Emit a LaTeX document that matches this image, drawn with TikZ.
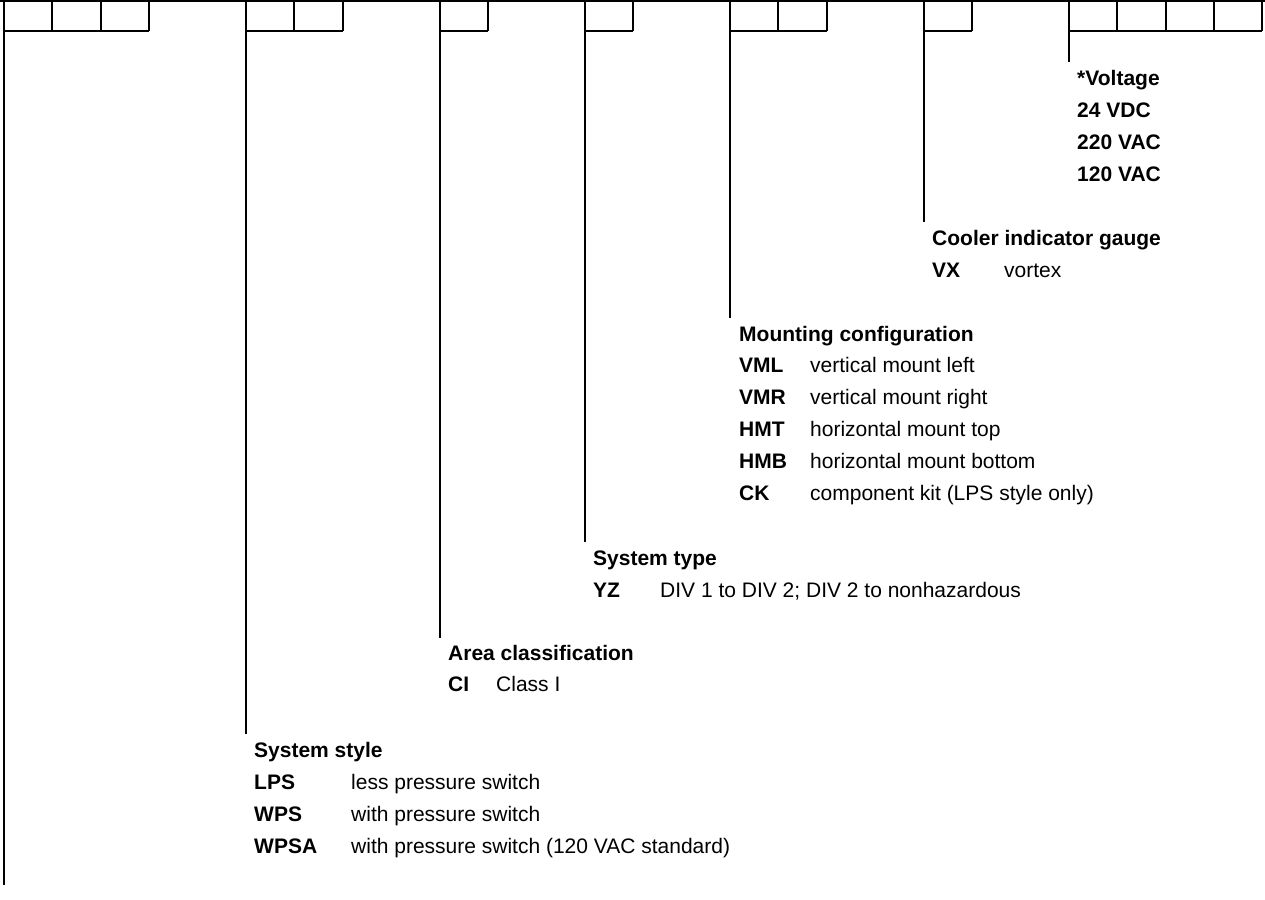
\documentclass[tikz,border=0pt]{standalone}
\usepackage{fontspec}
\setmainfont{Liberation Sans}
\begin{document}
\begin{tikzpicture}[x=1pt,y=-1pt,
  rule/.style={line width=2pt},
  head/.style={anchor=base west, inner sep=0pt, font=\fontsize{21}{25}\selectfont\bfseries},
  keytxt/.style={anchor=base west, inner sep=0pt, font=\fontsize{21}{25}\selectfont\bfseries},
  desc/.style={anchor=base west, inner sep=0pt, font=\fontsize{21}{25}\selectfont}]
\useasboundingbox (0,0) rectangle (1265,899);

% top rule
\coordinate (topL) at (0,1);
\coordinate (topR) at (1265,1);
\draw[rule] (topL) -- (topR);

% box groups: cell boundaries
\foreach \xs in {{4,52.4,100.8,149.2},{246,294.4,342.8},{439.6,488},{584.8,633.2},{730,778.4,826.8},{923.6,972},{1068.8,1117.2,1165.6,1214,1262.4}}{
  \foreach \x in \xs {
    \draw[rule] (\x,1) -- (\x,31);
  }
}
\draw[rule] (4,31) -- (149.2,31);
\draw[rule] (246,31) -- (342.8,31);
\draw[rule] (439.6,31) -- (488,31);
\draw[rule] (584.8,31) -- (633.2,31);
\draw[rule] (730,31) -- (826.8,31);
\draw[rule] (923.6,31) -- (972,31);
\draw[rule] (1068.8,31) -- (1262.4,31);

% leader coordinates
\coordinate (g1top) at (4,1);      \coordinate (g1end) at (4,885);
\coordinate (g2top) at (246,1);    \coordinate (g2end) at (246,734);
\coordinate (g3top) at (439.6,1);  \coordinate (g3end) at (439.6,638);
\coordinate (g4top) at (584.8,1);  \coordinate (g4end) at (584.8,542);
\coordinate (g5top) at (730,1);    \coordinate (g5end) at (730,318);
\coordinate (g6top) at (923.6,1);  \coordinate (g6end) at (923.6,222);
\coordinate (g7top) at (1068.8,1); \coordinate (g7end) at (1068.8,62);

\foreach \g in {1,...,7} { \draw[rule] (g\g top) -- (g\g end); }

% Voltage
\node[head] (volt) at (1077,85) {*Voltage};
\node[keytxt] (v24) at (1077,117) {24 VDC};
\node[keytxt] (v220) at (1077,149) {220 VAC};
\node[keytxt] (v120) at (1077,181) {120 VAC};

% Cooler indicator gauge
\node[head] (cool) at (932,245) {Cooler indicator gauge};
\node[keytxt] (vx) at (932,277) {VX};
\node[desc] (vxd) at (1004,277) {vortex};

% Mounting configuration
\node[head] (mount) at (739,341) {Mounting configuration};
\node[keytxt] (vml) at (739,372.8) {VML};
\node[desc] (vmld) at (810,372.8) {vertical mount left};
\node[keytxt] (vmr) at (739,404.6) {VMR};
\node[desc] (vmrd) at (810,404.6) {vertical mount right};
\node[keytxt] (hmt) at (739,436.4) {HMT};
\node[desc] (hmtd) at (810,436.4) {horizontal mount top};
\node[keytxt] (hmb) at (739,468.2) {HMB};
\node[desc] (hmbd) at (810,468.2) {horizontal mount bottom};
\node[keytxt] (ck) at (739,500) {CK};
\node[desc] (ckd) at (810,500) {component kit (LPS style only)};

% System type
\node[head] (stype) at (593,565) {System type};
\node[keytxt] (yz) at (593,597) {YZ};
\node[desc] (yzd) at (660,597) {DIV 1 to DIV 2; DIV 2 to nonhazardous};

% Area classification
\node[head] (area) at (448,660) {Area classification};
\node[keytxt] (ci) at (448,691) {CI};
\node[desc] (cid) at (496,691) {Class I};

% System style
\node[head] (sstyle) at (254,757) {System style};
\node[keytxt] (lps) at (254,789) {LPS};
\node[desc] (lpsd) at (351,789) {less pressure switch};
\node[keytxt] (wps) at (254,821) {WPS};
\node[desc] (wpsd) at (351,821) {with pressure switch};
\node[keytxt] (wpsa) at (254,853) {WPSA};
\node[desc] (wpsad) at (351,853) {with pressure switch (120 VAC standard)};
\end{tikzpicture}
\end{document}
